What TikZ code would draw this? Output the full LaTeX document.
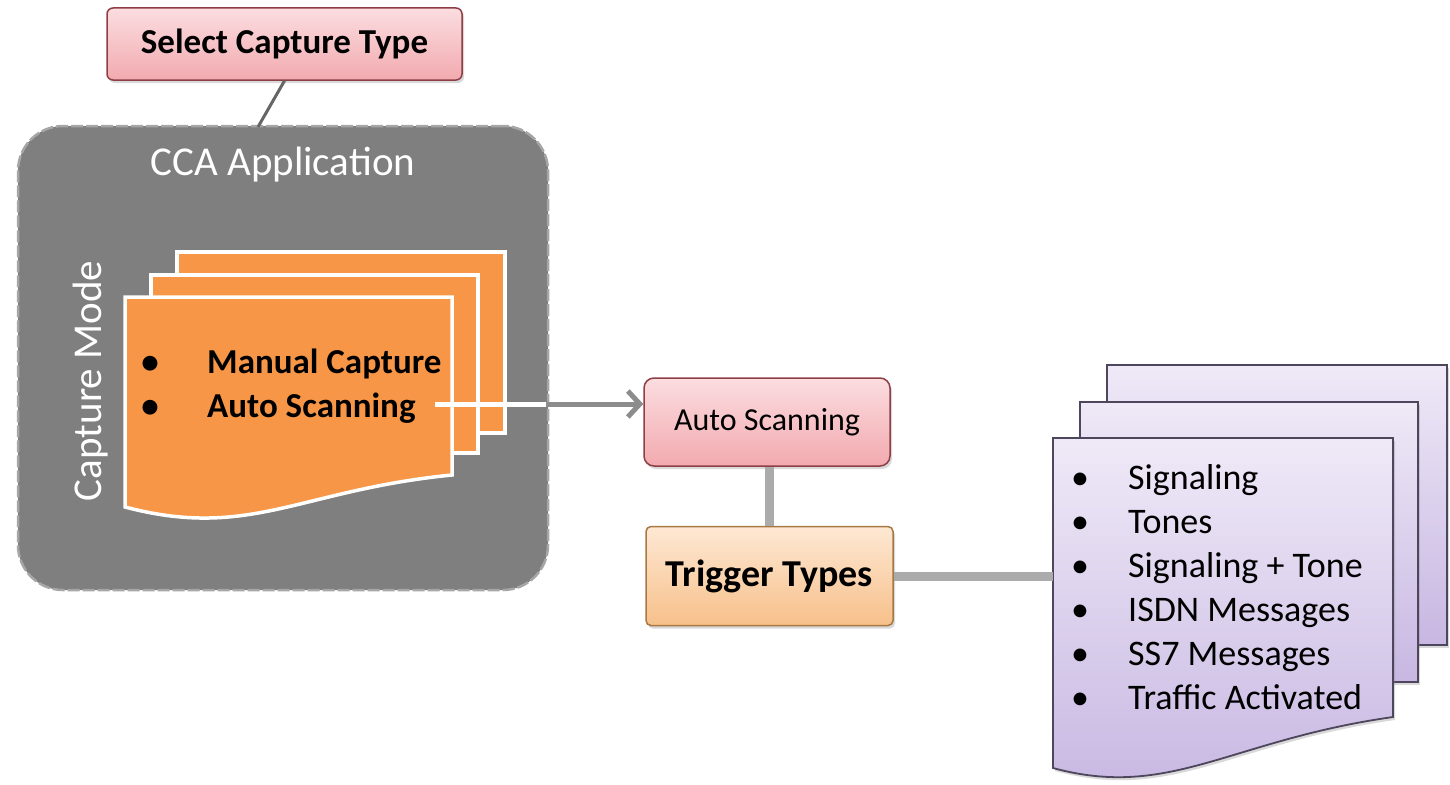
\documentclass[tikz,border=0pt]{standalone}
\usepackage{fontspec}
\setmainfont{Carlito}
\usepackage{xcolor}
\usetikzlibrary{arrows.meta, shadows}

\definecolor{PinkTop}{HTML}{FBDDE0}
\definecolor{PinkBot}{HTML}{F2AAAF}
\definecolor{PinkLine}{HTML}{8E3F46}
\definecolor{PeachTop}{HTML}{FDE8D4}
\definecolor{PeachBot}{HTML}{F7C08A}
\definecolor{PeachLine}{HTML}{A87843}
\definecolor{DocOrange}{HTML}{F79646}
\definecolor{PanelGray}{HTML}{7F7F7F}
\definecolor{PanelEdge}{HTML}{A6A6A6}
\definecolor{LilacTop}{HTML}{EFE9F7}
\definecolor{LilacBot}{HTML}{C7B7E2}
\definecolor{LilacLine}{HTML}{4E465C}
\definecolor{LinkGray}{HTML}{ABABAB}

\tikzset{
  softshadow/.style={drop shadow={opacity=0.3, shadow xshift=2pt, shadow yshift=-3pt}},
  pinkbox/.style={draw=PinkLine, line width=1.5pt, rounded corners=6pt,
    top color=PinkTop, bottom color=PinkBot, softshadow},
  peachbox/.style={draw=PeachLine, line width=1.5pt, rounded corners=5pt,
    top color=PeachTop, bottom color=PeachBot, softshadow},
  orangepage/.style={fill=DocOrange, draw=white, line width=3.5pt},
  lilacpage/.style={draw=LilacLine, line width=1.8pt, top color=LilacTop,
    bottom color=LilacBot, softshadow},
  bigitem/.style={font=\bfseries\fontsize{35}{42}\selectfont, anchor=base west, inner sep=0pt},
  smallitem/.style={font=\fontsize{36}{43}\selectfont, anchor=base west, inner sep=0pt},
  link/.style={draw=LinkGray, line width=9pt}
}

\begin{document}
\begin{tikzpicture}[x=1pt, y=-1pt]
\useasboundingbox (0,0) rectangle (1450,784);

% top box and the application panel
\node[pinkbox, minimum width=355pt, minimum height=72pt,
      font=\bfseries\fontsize{35}{42}\selectfont] (select) at (284.5,44) {Select Capture Type};
\node[fill=PanelGray, draw=PanelEdge, line width=2.5pt, dash pattern=on 12pt off 3pt,
      rounded corners=45pt, minimum width=530pt, minimum height=464pt] (cca) at (283,358) {};
\coordinate (panelin) at (258,127);
\draw[draw=black!60, line width=3pt] (select.south) -- (panelin);

\node[text=white, font=\fontsize{41}{48}\selectfont, anchor=base] (ccatitle) at (283,175) {CCA Application};
\node[text=white, font=\fontsize{41}{48}\selectfont, rotate=90] (mode) at (91,381) {Capture Mode};

% orange page stack
\filldraw[orangepage] (177,252) rectangle (505,433);
\filldraw[orangepage] (151,275) rectangle (478,453);
\filldraw[orangepage] (125,297) -- (452,297) -- (452,475)
  .. controls (300,490) and (250,540) .. (125,507) -- cycle;

\node[bigitem] (mcitem) at (207,373) {Manual Capture};
\node[bigitem] (asitem) at (207,417) {Auto Scanning};
\node[anchor=base, font=\bfseries\fontsize{35}{42}\selectfont] at (150,373) {\textbullet};
\node[anchor=base, font=\bfseries\fontsize{35}{42}\selectfont] at (150,417) {\textbullet};

% middle boxes
\node[pinkbox, rounded corners=10pt, minimum width=246pt, minimum height=88pt,
      font=\fontsize{32}{38}\selectfont] (auto) at (767,422) {Auto Scanning};
\node[peachbox, minimum width=247pt, minimum height=99pt,
      font=\bfseries\fontsize{38}{45}\selectfont] (trigger) at (769.5,576) {Trigger Types};

\coordinate (linestart) at (435,404);
\coordinate (panelexit) at (546,404);
\draw[white, line width=5pt] (linestart) -- (panelexit);
\draw[draw=black!45, line width=5pt, -{Straight Barb[length=12pt, width=26pt]}]
  (panelexit) -- (panelexit -| auto.west);

\draw[link] (trigger.north |- auto.south) -- (trigger.north);

% lilac page stack
\path[lilacpage] (1107,365) rectangle (1447,645);
\path[lilacpage] (1080,402) rectangle (1418,682);
\path[lilacpage] (1053,438) -- (1393,438) -- (1393,717)
  .. controls (1230,740) and (1170,800) .. (1053,768) -- cycle;
\coordinate (lilacin) at (1053,576);
\draw[link] (trigger.east) -- (lilacin);

\foreach \txt [count=\i] in {Signaling, Tones, Signaling + Tone, ISDN Messages, SS7 Messages, Traffic Activated} {
  \node[smallitem] (trig\i) at (1128,445+44*\i) {\txt};
  \node[anchor=base, font=\fontsize{36}{43}\selectfont] at (1080,445+44*\i) {\textbullet};
}
\end{tikzpicture}
\end{document}
